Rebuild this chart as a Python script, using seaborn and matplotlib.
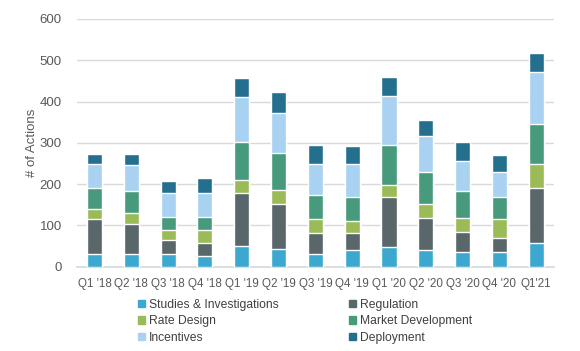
import numpy as np
import pandas as pd
import matplotlib
matplotlib.use("Agg")
import matplotlib.pyplot as plt
import matplotlib.patches as mpatches
import seaborn as sns

quarters = ["Q1 '18", "Q2 '18", "Q3 '18", "Q4 '18", "Q1 '19", "Q2 '19", "Q3 '19",
            "Q4 '19", "Q1 '20", "Q2 '20", "Q3 '20", "Q4 '20", "Q1'21"]

studies = [30, 32, 32, 27, 51, 44, 32, 40, 49, 40, 36, 36, 57]
regulation = [85, 72, 33, 30, 127, 109, 49, 41, 119, 77, 47, 33, 133]
rate_design = [24, 25, 25, 32, 33, 34, 34, 30, 29, 35, 34, 46, 58]
market_dev = [52, 55, 31, 32, 92, 88, 58, 59, 99, 77, 66, 53, 98]
incentives = [57, 62, 57, 57, 108, 98, 75, 78, 118, 88, 74, 62, 126]
deployment = [26, 26, 30, 38, 47, 51, 48, 45, 46, 39, 46, 40, 46]

series_names = ["Studies & Investigations", "Regulation", "Rate Design",
                "Market Development", "Incentives", "Deployment"]
series_values = [studies, regulation, rate_design, market_dev, incentives, deployment]
colors = ["#3DA8CF", "#59666A", "#9BBB59", "#479B7C", "#A9D1F1", "#256F8E"]

sns.set_theme(style="white")
plt.rcParams['font.family'] = ['Liberation Sans', 'DejaVu Sans']

df = pd.DataFrame(dict(zip(series_names, series_values)), index=quarters)
cum = df.cumsum(axis=1)

fig, ax = plt.subplots(figsize=(5.8, 3.51), dpi=100)
fig.subplots_adjust(left=0.133, right=0.955, top=0.946, bottom=0.24)

#Draw the cumulative totals from the top layer down so each segment shows.
for name, col in reversed(list(zip(series_names, colors))):
    sns.barplot(x=quarters, y=cum[name].values, color=col, width=0.41,
                saturation=1, ax=ax, zorder=3)

ax.set_ylim(0, 600)
ax.set_yticks(range(0, 601, 100))
ax.set_xlim(-0.47, 12.48)
ax.yaxis.grid(True, color="#D9D9D9", linewidth=1, zorder=0)
ax.set_axisbelow(True)
for s in ["top", "right", "left"]:
    ax.spines[s].set_visible(False)
ax.spines["bottom"].set_color("#D9D9D9")
ax.tick_params(axis="y", labelsize=9.5, colors="#595959", length=0, pad=11)
ax.tick_params(axis="x", labelsize=8.4, colors="#595959", length=0, pad=8)
ax.set_ylabel("# of Actions", fontsize=9.5, color="#595959", labelpad=1)
ax.set_xlabel("")

handles = [mpatches.Patch(color=c, label=n) for n, c in zip(series_names, colors)]
order = [0, 2, 4, 1, 3, 5]
ax.legend([handles[i] for i in order], [series_names[i] for i in order],
          ncol=2, loc="upper center", bbox_to_anchor=(0.478, -0.085),
          frameon=False, fontsize=8.7, handlelength=0.6, handleheight=0.6,
          handletextpad=0.3, columnspacing=5.8, labelspacing=0.38,
          labelcolor="#404040")

fig.savefig("out.png", dpi=100)
